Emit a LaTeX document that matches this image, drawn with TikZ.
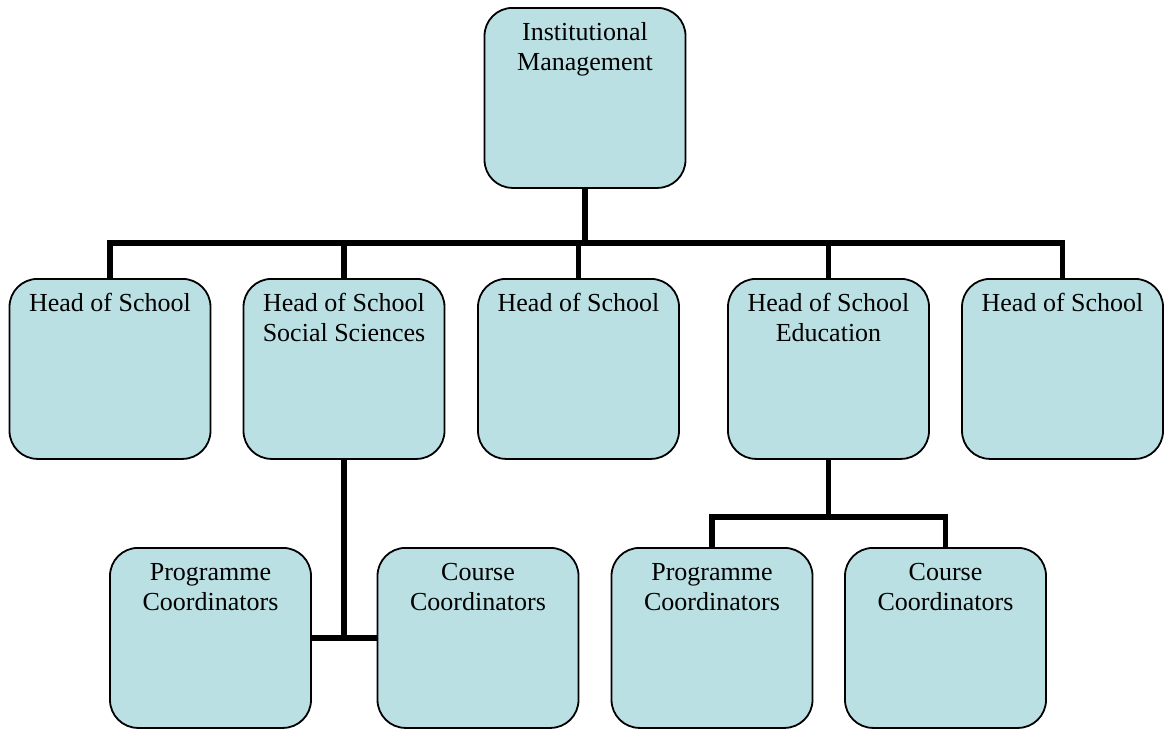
\documentclass[tikz,border=0pt]{standalone}
\usepackage{fontspec}
\setmainfont{Liberation Serif}
\definecolor{boxfill}{RGB}{187,224,227}
\tikzset{
  box/.style={draw=black, line width=0.9pt, fill=boxfill, rounded corners=14pt,
    minimum width=100.5pt, minimum height=90pt, inner sep=0pt, anchor=north},
  txt/.style={inner sep=0pt, anchor=base, font=\fontsize{13}{15}\selectfont},
  conn/.style={line width=2.7pt, draw=black}
}
\newcommand\orgbox[3]{%
  \node[box] (#1) at #2 {};
  \node[txt] (#1t) at ([yshift=-16.5pt]#1.north) {\parbox[t]{98pt}{\centering #3}};
}
\begin{document}
\begin{tikzpicture}[x=0.5pt,y=-0.5pt]
\useasboundingbox (0,0) rectangle (1165,728);
\coordinate (bus) at (0,243);
\coordinate (rbus) at (0,517);
% connectors first (under boxes)
\orgbox{top}{(585,7)}{Institutional\\Management}
\orgbox{h1}{(110,278)}{Head of School}
\orgbox{h2}{(344,278)}{Head of School\\Social Sciences}
\orgbox{h3}{(578.5,278)}{Head of School}
\orgbox{h4}{(828.5,278)}{Head of School\\Education}
\orgbox{h5}{(1062.5,278)}{Head of School}
\orgbox{p1}{(210.5,547)}{Programme\\Coordinators}
\orgbox{c1}{(478,547)}{Course\\Coordinators}
\orgbox{p2}{(712,547)}{Programme\\Coordinators}
\orgbox{c2}{(945.5,547)}{Course\\Coordinators}
\draw[conn] (top.south) -- (top.south |- bus);
\draw[conn] (h1.north) -- (h1.north |- bus) -- (h5.north |- bus) -- (h5.north);
\draw[conn] (h2.north) -- (h2.north |- bus);
\draw[conn] (h3.north) -- (h3.north |- bus);
\draw[conn] (h4.north) -- (h4.north |- bus);
\draw[conn] (h2.south) -- (h2.south |- p1.east);
\draw[conn] (p1.east) -- (c1.west);
\draw[conn] (h4.south) -- (h4.south |- rbus);
\draw[conn] (p2.north) -- (p2.north |- rbus) -- (c2.north |- rbus) -- (c2.north);
\end{tikzpicture}
\end{document}
